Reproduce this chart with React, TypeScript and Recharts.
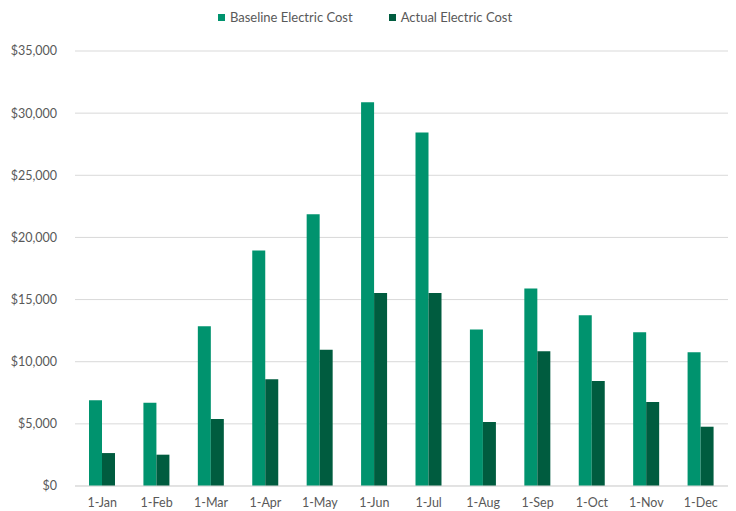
import { BarChart, Bar, XAxis, YAxis, CartesianGrid } from 'recharts'

const BASELINE = '#00936E'
const ACTUAL = '#005C3F'
const TEXT = '#595959'
const GRID = '#D9D9D9'

const months = ['1-Jan', '1-Feb', '1-Mar', '1-Apr', '1-May', '1-Jun', '1-Jul', '1-Aug', '1-Sep', '1-Oct', '1-Nov', '1-Dec']
const baselineCost = [6900, 6700, 12850, 18950, 21870, 30880, 28450, 12600, 15900, 13730, 12370, 10760]
const actualCost = [2650, 2520, 5390, 8580, 10970, 15530, 15530, 5150, 10840, 8450, 6760, 4770]
const yTicks = [0, 5000, 10000, 15000, 20000, 25000, 30000, 35000]

const series = [
    { key: 'baseline', name: 'Baseline Electric Cost', color: BASELINE },
    { key: 'actual', name: 'Actual Electric Cost', color: ACTUAL },
]

const data = months.map((month, i) => ({
    month,
    baseline: baselineCost[i],
    actual: actualCost[i],
}))

const formatDollar = (v: number) => `$${v.toLocaleString('en-US')}`

const App = () => {
    return (
        <div style={{ position: 'absolute', left: 0, top: 0, width: 736, height: 511, background: '#fff' }}>
            <div style={{ position: 'absolute', top: 9, left: 0, width: 730, display: 'flex', justifyContent: 'center', gap: 36, fontFamily: 'Lato, sans-serif', fontSize: 13, color: TEXT }}>
                {series.map((s) => (
                    <div key={s.key} style={{ display: 'flex', alignItems: 'center', gap: 5 }}>
                        <div style={{ width: 7, height: 7, backgroundColor: s.color }} />
                        <span>{s.name}</span>
                    </div>
                ))}
            </div>
            <BarChart width={736} height={511} data={data} margin={{ top: 51, right: 8, bottom: 5, left: 0 }} barGap={0}>
                <CartesianGrid vertical={false} stroke={GRID} />
                <XAxis
                    dataKey="month"
                    height={20}
                    axisLine={{ stroke: GRID }}
                    tickLine={false}
                    tickMargin={6}
                    tick={{ fill: TEXT, fontSize: 12.5, fontFamily: 'Lato, sans-serif' }}
                    interval={0}
                />
                <YAxis
                    width={75}
                    domain={[0, 35000]}
                    ticks={yTicks}
                    axisLine={false}
                    tickLine={false}
                    tickMargin={12}
                    tickFormatter={formatDollar}
                    tick={{ fill: TEXT, fontSize: 12.5, fontFamily: 'Lato, sans-serif' }}
                />
                {series.map((s) => (
                    <Bar key={s.key} dataKey={s.key} name={s.name} fill={s.color} barSize={13} isAnimationActive={false} />
                ))}
            </BarChart>
        </div>
    )
}

export default App
